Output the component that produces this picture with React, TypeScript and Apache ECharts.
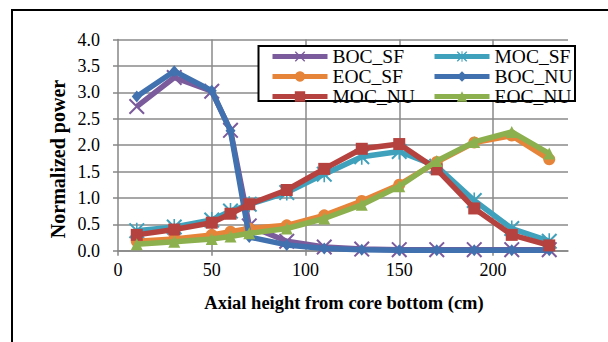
import React, { useEffect, useRef } from "react";
import * as echarts from "echarts";

const heights = [10, 30, 50, 60, 70, 90, 110, 130, 150, 170, 190, 210, 230];
const bocSF = [2.73, 3.28, 3.02, 2.28, 0.47, 0.18, 0.07, 0.03, 0.02, 0.02, 0.02, 0.02, 0.02];
const mocSF = [0.38, 0.45, 0.58, 0.75, 0.88, 1.1, 1.45, 1.78, 1.88, 1.6, 0.95, 0.42, 0.18];
const eocSF = [0.18, 0.22, 0.3, 0.36, 0.42, 0.48, 0.67, 0.94, 1.25, 1.68, 2.05, 2.18, 1.73];
const bocNU = [2.92, 3.4, 3.03, 2.27, 0.26, 0.11, 0.04, 0.02, 0.01, 0.01, 0.01, 0.01, 0.01];
const mocNU = [0.3, 0.4, 0.53, 0.7, 0.88, 1.15, 1.55, 1.93, 2.02, 1.54, 0.8, 0.3, 0.1];
const eocNU = [0.12, 0.17, 0.22, 0.27, 0.33, 0.42, 0.61, 0.87, 1.22, 1.7, 2.06, 2.25, 1.84];

const seriesNames = ["BOC_SF", "MOC_SF", "EOC_SF", "BOC_NU", "MOC_NU", "EOC_NU"];
const seriesValues = [bocSF, mocSF, eocSF, bocNU, mocNU, eocNU];
const seriesColors = ["#7B5B9C", "#3FA1BC", "#E6843A", "#4171AE", "#B5423E", "#8DB04E"];

const X_PATH = "path://M0 9L9 0L100 91L91 100Z M91 0L100 9L9 100L0 91Z";
const STAR_PATH = X_PATH + " M45 0L55 0L55 100L45 100Z";
const seriesSymbols = [X_PATH, STAR_PATH, "circle", "diamond", "rect", "triangle"];
const seriesSymbolSizes: any[] = [16, 16, 12, [10, 12], 12, 12];

const FONT = "Liberation Serif";

export default function App() {
  const ref = useRef<HTMLDivElement>(null);
  useEffect(() => {
    if (!ref.current) return;
    const chart = echarts.init(ref.current, undefined, { renderer: "svg" });
    const series = seriesNames.map((name, i) => ({
      name,
      type: "line",
      data: heights.map((h, j) => [h, seriesValues[i][j]]),
      symbol: seriesSymbols[i],
      symbolSize: seriesSymbolSizes[i],
      showAllSymbol: true,
      lineStyle: { color: seriesColors[i], width: 5.5 },
      itemStyle: { color: seriesColors[i] },
      z: 2 + i * 0.01,
    }));
    const legendCommon = {
      orient: "vertical",
      top: 46.5,
      padding: 0,
      itemGap: 0,
      itemWidth: 55,
      itemHeight: 13,
      lineStyle: { width: 5 },
      textStyle: { fontFamily: FONT, fontSize: 19.5, color: "#000", lineHeight: 19 },
    };
    chart.setOption({
      animation: false,
      grid: { left: 118, right: 40, top: 39.5, bottom: 91.3, containLabel: false },
      xAxis: {
        type: "value",
        min: 0,
        max: 240,
        interval: 50,
        axisLine: { show: true, lineStyle: { color: "#868686", width: 1.5 } },
        axisTick: { show: true, inside: false, length: 5, lineStyle: { color: "#868686", width: 1.5 } },
        axisLabel: { showMaxLabel: false, margin: 10, fontFamily: FONT, fontSize: 18, color: "#000" },
        splitLine: { show: true, showMinLine: false, showMaxLine: false, lineStyle: { color: "#8a8a8a", width: 1.5 } },
      },
      yAxis: {
        type: "value",
        min: 0,
        max: 4,
        interval: 0.5,
        axisLine: { show: true, lineStyle: { color: "#868686", width: 1.5 } },
        axisTick: { show: true, inside: false, length: 5, lineStyle: { color: "#868686", width: 1.5 } },
        axisLabel: {
          margin: 18,
          fontFamily: FONT,
          fontSize: 18,
          color: "#000",
          formatter: (v: number) => v.toFixed(1),
        },
        splitLine: { show: true, lineStyle: { color: "#8a8a8a", width: 1.5 } },
      },
      legend: [
        { ...legendCommon, left: 270, data: ["BOC_SF", "EOC_SF", "MOC_NU"] },
        { ...legendCommon, left: 432, data: ["MOC_SF", "BOC_NU", "EOC_NU"] },
      ],
      graphic: [
        {
          type: "rect",
          z: 0,
          shape: { x: 12, y: 10, width: 700, height: 500 },
          style: { fill: "none", stroke: "#000", lineWidth: 2 },
        },
        {
          type: "rect",
          z: 3,
          shape: { x: 258.5, y: 46, width: 316.5, height: 55 },
          style: { fill: "#fff", stroke: "#000", lineWidth: 2 },
        },
        {
          type: "text",
          x: 344,
          y: 302.5,
          style: {
            text: "Axial height from core bottom (cm)",
            font: "bold 18.5px 'Liberation Serif'",
            fill: "#000",
            align: "center",
            verticalAlign: "middle",
          },
        },
        {
          type: "text",
          x: 57.5,
          y: 159,
          rotation: Math.PI / 2,
          style: {
            text: "Normalized power",
            font: "bold 20px 'Liberation Serif'",
            fill: "#000",
            align: "center",
            verticalAlign: "middle",
          },
        },
      ],
      series,
    });
    return () => chart.dispose();
  }, []);
  return (
    <div
      ref={ref}
      style={{ position: "fixed", left: 0, top: 0, width: 608, height: 342, background: "#fff" }}
    />
  );
}
